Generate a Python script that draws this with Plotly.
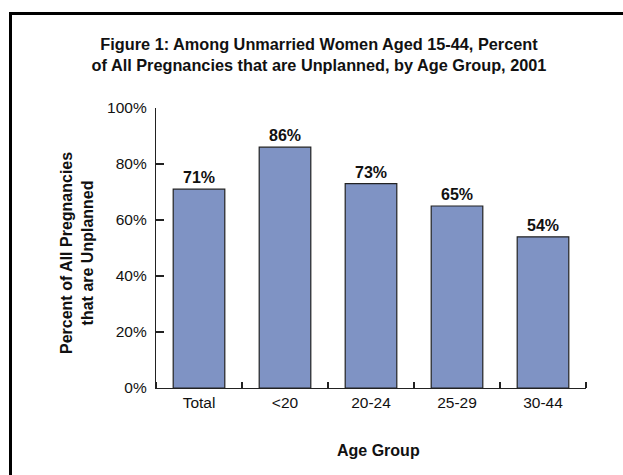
import plotly.graph_objects as go

categories = ["Total", "<20", "20-24", "25-29", "30-44"]
values = [71, 86, 73, 65, 54]
value_labels = ["71%", "86%", "73%", "65%", "54%"]
y_tickvals = [0, 20, 40, 60, 80, 100]
y_ticktext = ["0%", "20%", "40%", "60%", "80%", "100%"]

FONT = "Liberation Sans, Arial, Helvetica, sans-serif"
INK = "#111111"
LINE = "#222222"

W, H = 623, 475
L, R, T, B = 156, 37, 108, 87
pw, ph = W - L - R, H - T - B


def px_x(px):
    return (px - L) / pw


def px_y(py):
    return (H - B - py) / ph


xpos = list(range(len(categories)))

fig = go.Figure()
fig.add_trace(go.Bar(
    x=xpos, y=values,
    text=value_labels, textposition="outside",
    textfont=dict(family=FONT, size=16, color=INK, weight="bold"),
    marker=dict(color="#7f93c4", line=dict(color=LINE, width=1.2)),
    cliponaxis=False, width=0.6,
))

# outer frame: only its top and left edges fall inside the picture
fig.add_shape(type="line", xref="paper", yref="paper",
              x0=px_x(9), x1=px_x(700), y0=px_y(13.5), y1=px_y(13.5),
              line=dict(color="#000000", width=3), layer="above")
fig.add_shape(type="line", xref="paper", yref="paper",
              x0=px_x(10.5), x1=px_x(10.5), y0=px_y(12), y1=px_y(560),
              line=dict(color="#000000", width=3), layer="above")

fig.add_annotation(
    text="<b>Percent of All Pregnancies<br>that are Unplanned</b>",
    xref="paper", yref="paper", x=px_x(77), y=px_y(253),
    xanchor="center", yanchor="middle", textangle=-90, showarrow=False,
    font=dict(family=FONT, size=16, color=INK),
)
fig.add_annotation(
    text="<b>Age Group</b>",
    xref="paper", yref="paper", x=px_x(378), y=px_y(450),
    xanchor="center", yanchor="middle", showarrow=False,
    font=dict(family=FONT, size=16, color=INK),
)

fig.update_layout(
    width=W, height=H,
    margin=dict(l=L, r=R, t=T, b=B),
    paper_bgcolor="white", plot_bgcolor="white",
    showlegend=False,
    font=dict(family=FONT, size=15.5, color=INK),
    title=dict(
        text="<b>Figure 1: Among Unmarried Women Aged 15-44, Percent<br>of All Pregnancies that are Unplanned, by Age Group, 2001</b>",
        x=319 / W, xanchor="center", y=1 - 50 / H, yanchor="middle",
        font=dict(family=FONT, size=16.3, color=INK),
    ),
    xaxis=dict(
        range=[-0.5, 4.5], automargin=False,
        tickmode="array", tickvals=xpos, ticktext=categories,
        showline=True, linecolor=LINE, linewidth=1.2,
        ticks="", tickfont=dict(size=15.5),
        minor=dict(ticks="inside", ticklen=6, tickcolor=LINE, tickwidth=1.2,
                   tickmode="linear", tick0=0.5, dtick=1, showgrid=False),
        showgrid=False, zeroline=False,
    ),
    yaxis=dict(
        range=[0, 100], automargin=False,
        tickmode="array", tickvals=y_tickvals, ticktext=y_ticktext,
        showline=True, linecolor=LINE, linewidth=1.2,
        ticks="inside", ticklen=8, tickcolor=LINE, tickwidth=1.2,
        ticklabelstandoff=5,
        tickfont=dict(size=15.5),
        showgrid=False, zeroline=False,
    ),
)

fig.write_html(
    "out.html",
    config={"displayModeBar": False, "staticPlot": True},
    post_script=(
        "document.body.style.margin='0';document.body.style.overflow='hidden';"
        "document.documentElement.style.overflow='hidden';"
    ),
)
